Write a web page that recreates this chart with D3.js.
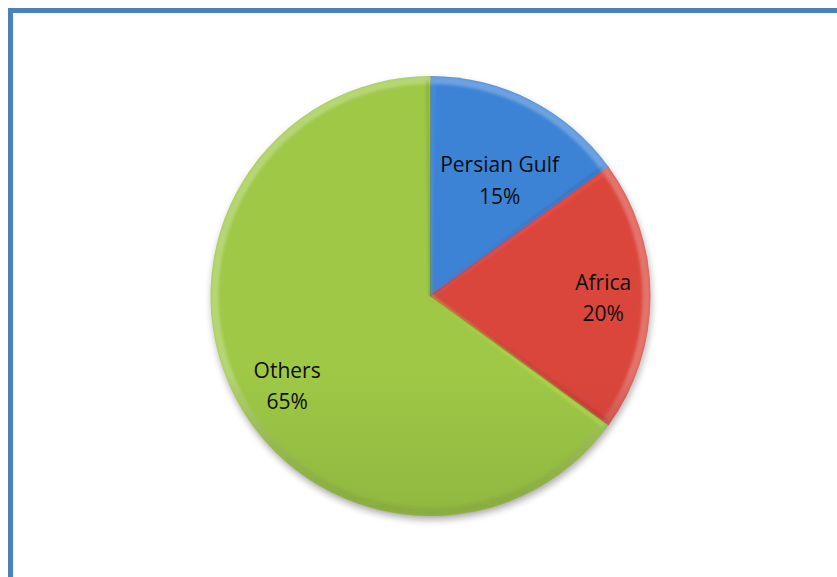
<!DOCTYPE html>
<html>
<head>
<meta charset="utf-8">
<script src="https://cdn.jsdelivr.net/npm/d3@7"></script>
<style>
  html, body { margin: 0; padding: 0; background: #fff; }
  svg { display: block; }
</style>
</head>
<body>
<script>
// Share of supply by region
const regions = ["Persian Gulf", "Africa", "Others"];
const shares = [15, 20, 65];
const shareLabels = ["15%", "20%", "65%"];
const sliceColors = ["#3a7fd0", "#d4443a", "#9ac244"];

const W = 837, H = 577;
const cx = 430.5, cy = 296, R = 220;

const svg = d3.select("body").append("svg")
  .attr("width", W).attr("height", H);

const defs = svg.append("defs");

// soft shadow under the pie
const blur = defs.append("filter").attr("id", "shadow")
  .attr("x", "-20%").attr("y", "-20%").attr("width", "140%").attr("height", "140%");
blur.append("feGaussianBlur").attr("stdDeviation", 3.5);

const edgeBlur = defs.append("filter").attr("id", "edgeBlur")
  .attr("x", "-10%").attr("y", "-10%").attr("width", "120%").attr("height", "120%");
edgeBlur.append("feGaussianBlur").attr("stdDeviation", 1.5);

// frame
svg.append("rect")
  .attr("x", 10.5).attr("y", 10.5)
  .attr("width", W + 20).attr("height", H + 20)
  .attr("fill", "#fff")
  .attr("stroke", "#4a80bd").attr("stroke-width", 5);

const data = regions.map((r, i) => ({ region: r, value: shares[i], label: shareLabels[i], color: sliceColors[i] }));

const pie = d3.pie().value(d => d.value).sort(null);
const arcs = pie(data);
const arc = d3.arc().innerRadius(0).outerRadius(R);
const rim = d3.arc().innerRadius(R - 8).outerRadius(R);

// vertical shading per slice: lighter on top, darker at the bottom
arcs.forEach((a, i) => {
  const c = d3.color(a.data.color);
  const g = defs.append("linearGradient").attr("id", "fill" + i)
    .attr("gradientUnits", "userSpaceOnUse")
    .attr("x1", 0).attr("y1", cy - R).attr("x2", 0).attr("y2", cy + R);
  g.append("stop").attr("offset", "0%").attr("stop-color", c.brighter(0.08));
  g.append("stop").attr("offset", "50%").attr("stop-color", c.darker(0.3));
  g.append("stop").attr("offset", "100%").attr("stop-color", c.darker(0.9));
});

// rim overlay: faint light at the top, shade toward the bottom
const rg = defs.append("linearGradient").attr("id", "rimShade")
  .attr("gradientUnits", "userSpaceOnUse")
  .attr("x1", 0).attr("y1", cy - R).attr("x2", 0).attr("y2", cy + R);
rg.append("stop").attr("offset", "0%").attr("stop-color", "#fff").attr("stop-opacity", 0.25);
rg.append("stop").attr("offset", "40%").attr("stop-color", "#000").attr("stop-opacity", 0.05);
rg.append("stop").attr("offset", "100%").attr("stop-color", "#000").attr("stop-opacity", 0.38);

const root = svg.append("g").attr("transform", `translate(${cx},${cy})`);

// shadow
root.append("circle")
  .attr("cx", 1).attr("cy", 4).attr("r", R)
  .attr("fill", "#000").attr("opacity", 0.3)
  .attr("filter", "url(#shadow)");

// slices
root.selectAll("path.slice").data(arcs).join("path")
  .attr("class", "slice")
  .attr("d", arc)
  .attr("fill", (d, i) => `url(#fill${i})`);

// bevel along the outer rim
const bevel = root.append("g").attr("filter", "url(#edgeBlur)");
bevel.selectAll("path.rim").data(arcs).join("path")
  .attr("class", "rim")
  .attr("d", rim)
  .attr("fill", "url(#rimShade)");

// bevel along the radial slice edges: light on one side, shade on the other
arcs.forEach(a => {
  const c = d3.color(a.data.color);
  [a.startAngle, a.endAngle].forEach((ang, k) => {
    const off = k === 0 ? 0.014 : -0.014;
    const x2 = Math.sin(ang + off) * (R - 4), y2 = -Math.cos(ang + off) * (R - 4);
    bevel.append("line")
      .attr("x1", 0).attr("y1", 0).attr("x2", x2).attr("y2", y2)
      .attr("stroke", k === 0 ? c.brighter(0.5) : c.darker(0.6))
      .attr("stroke-width", 3).attr("opacity", 0.55);
  });
});

// thin separators
arcs.forEach(a => {
  const ang = a.startAngle;
  root.append("line")
    .attr("x1", 0).attr("y1", 0)
    .attr("x2", Math.sin(ang) * R).attr("y2", -Math.cos(ang) * R)
    .attr("stroke", "#000").attr("stroke-opacity", 0.15).attr("stroke-width", 1);
});

// labels
const labelRadius = [0.62, 0.785, 0.765];
const labelTurn = [0.06, 0, -0.08];
const labels = root.selectAll("text.lbl").data(arcs).join("text")
  .attr("class", "lbl")
  .attr("transform", (d, i) => {
    const m = (d.startAngle + d.endAngle) / 2 + labelTurn[i];
    const r = R * labelRadius[i];
    return `translate(${Math.sin(m) * r},${-Math.cos(m) * r})`;
  })
  .attr("text-anchor", "middle")
  .attr("font-family", "'Open Sans', sans-serif")
  .attr("font-size", 21)
  .attr("fill", "#0d0d0d");
labels.append("tspan").attr("x", 0).attr("dy", "-0.3em").text(d => d.data.region);
labels.append("tspan").attr("x", 0).attr("dy", "1.5em").text(d => d.data.label);
</script>
</body>
</html>
